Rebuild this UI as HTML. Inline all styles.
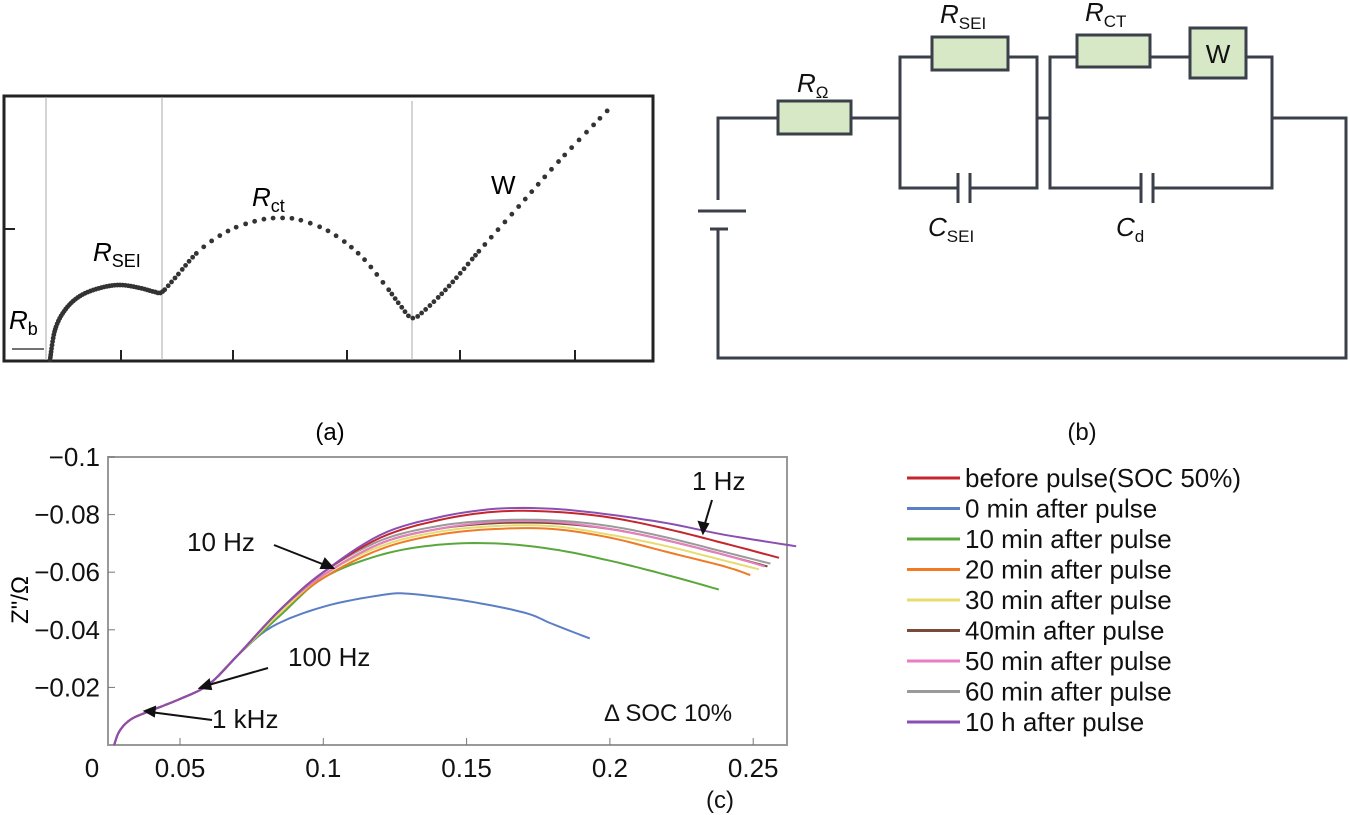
<!DOCTYPE html>
<html><head><meta charset="utf-8"><style>
body{margin:0;background:#fff;width:1350px;height:815px;overflow:hidden;font-family:"Liberation Sans",sans-serif}
svg{position:absolute;left:0;top:0}
</style></head><body>
<svg id="fig" width="1350" height="815" font-family="Liberation Sans, sans-serif">
<g>
<rect x="4" y="96" width="649" height="265" fill="none" stroke="#222" stroke-width="3"/>
<line x1="46" y1="97" x2="46" y2="360" stroke="#aaa" stroke-width="1"/>
<line x1="162" y1="97" x2="162" y2="360" stroke="#aaa" stroke-width="1"/>
<line x1="412" y1="101" x2="412" y2="360" stroke="#aaa" stroke-width="1"/>
<g stroke="#222" stroke-width="2"><line x1="121" y1="350" x2="121" y2="360"/><line x1="233" y1="350" x2="233" y2="360"/><line x1="347" y1="350" x2="347" y2="360"/><line x1="460" y1="350" x2="460" y2="360"/><line x1="575" y1="350" x2="575" y2="360"/><line x1="5" y1="229" x2="15" y2="229"/></g>
<g id="dotsA" fill="#333"></g>
<line x1="12" y1="349" x2="44" y2="349" stroke="#444" stroke-width="1.5"/>
<text x="9" y="329" font-size="26" font-style="italic">R<tspan font-size="18" font-style="normal" dy="6">b</tspan></text>
<text x="93" y="261" font-size="26" font-style="italic">R<tspan font-size="18" font-style="normal" dy="6">SEI</tspan></text>
<text x="252" y="206" font-size="26" font-style="italic">R<tspan font-size="18" font-style="normal" dy="6">ct</tspan></text>
<text x="491" y="194" font-size="26">W</text>
<text x="330" y="440" font-size="24" text-anchor="middle">(a)</text>
</g>
<g stroke="#3a3f4a" stroke-width="3" fill="none">
<polyline points="718,200 718,118 778,118"/>
<line x1="851" y1="118" x2="900" y2="118"/>
<polyline points="718,228 718,358 1346,358 1346,118 1272,118"/>
<polyline points="932,57 900,57 900,188 958,188"/>
<polyline points="970,188 1037,188 1037,57 1008,57"/>
<line x1="1037" y1="118" x2="1050" y2="118"/>
<polyline points="1077,57 1050,57 1050,188 1141,188"/>
<polyline points="1153,188 1272,188 1272,57 1246,57"/>
<line x1="1150" y1="57" x2="1190" y2="57"/>
<line x1="958" y1="173" x2="958" y2="203"/><line x1="970" y1="173" x2="970" y2="203"/>
<line x1="1141" y1="173" x2="1141" y2="203"/><line x1="1153" y1="173" x2="1153" y2="203"/>
<line x1="698" y1="211" x2="746" y2="211"/><line x1="710" y1="229" x2="728" y2="229"/>
<rect x="778" y="101" width="73" height="33" fill="#d6e8c6"/>
<rect x="932" y="37" width="76" height="33" fill="#d6e8c6"/>
<rect x="1077" y="35" width="73" height="32" fill="#d6e8c6"/>
<rect x="1190" y="28" width="56" height="50" fill="#d6e8c6"/>
</g>
<g font-size="26" fill="#111">
<text x="1218" y="63" text-anchor="middle">W</text>
<text x="797" y="92" font-style="italic">R<tspan font-size="17" font-style="normal" dy="6">Ω</tspan></text>
<text x="940" y="23" font-style="italic">R<tspan font-size="17" font-style="normal" dy="6">SEI</tspan></text>
<text x="1085" y="21" font-style="italic">R<tspan font-size="17" font-style="normal" dy="6">CT</tspan></text>
<text x="928" y="236" font-style="italic">C<tspan font-size="17" font-style="normal" dy="6">SEI</tspan></text>
<text x="1116" y="236" font-style="italic">C<tspan font-size="17" font-style="normal" dy="6">d</tspan></text>
<text x="1082" y="440" font-size="24" text-anchor="middle">(b)</text>
</g>
<g>
<rect x="108" y="457" width="679" height="288" fill="none" stroke="#999" stroke-width="2"/>
<g id="axesC" font-size="26" fill="#111"></g>
<g id="curvesC"></g>
<text x="28" y="600" font-size="24" transform="rotate(-90 28 600)" text-anchor="middle">Z"/Ω</text>
<g font-size="26" fill="#111">
<text x="692" y="490">1 Hz</text>
<text x="187" y="551">10 Hz</text>
<text x="288" y="666">100 Hz</text>
<text x="212" y="728">1 kHz</text>
<text x="604" y="721" font-size="24">Δ SOC 10%</text>
<text x="720" y="808" font-size="24" text-anchor="middle">(c)</text>
</g>
<g stroke="#111" stroke-width="2" fill="#111">
<line x1="712" y1="500" x2="703" y2="530"/><polygon points="703,533 699,522 708,524"/>
<line x1="274" y1="545" x2="330" y2="567"/><polygon points="333,568 321,568 325,559"/>
<line x1="268" y1="668" x2="205" y2="686"/><polygon points="200,688 209,680 211,689"/>
<line x1="212" y1="720" x2="150" y2="712"/><polygon points="145,711 155,707 154,716"/>
</g>
<g id="legendC" font-size="26" fill="#111"></g>
</g>
</svg>
<script>
// Panel (a): schematic Nyquist key points (Re, -Im in arbitrary units)
const aRe=[0.4,0.9,1.9,3.4,5.4,7.4,9.4,10.9,11.6,12.9,15.4,18.4,21.4,23.4,25.4,28.4,31.4,33.9,35.4,36.6,37.9,40.4,43.4,47.4,51.4,56.2];
const aIm=[0,3,5,6.4,7.2,7.5,7.2,6.8,6.8,8.2,11,13,14,14.2,14,12.8,10.5,7.5,5.5,4.2,5,7.5,11,15.5,20,25];
// Panel (c) data
const xTicks=[0.05,0.1,0.15,0.2,0.25];
const xTickLabels=["0.05","0.1","0.15","0.2","0.25"];
const yTicks=[0.02,0.04,0.06,0.08,0.1];
const yTickLabels=["−0.02","−0.04","−0.06","−0.08","−0.1"];
const seriesNames=["before pulse(SOC 50%)","0 min after pulse","10 min after pulse","20 min after pulse","30 min after pulse","40min after pulse","50 min after pulse","60 min after pulse","10 h after pulse"];
const seriesColors=["#c4262e","#5b7fc4","#5aa83c","#ef7b26","#e6dc70","#7b4a3a","#e87ec0","#9a9a9a","#8a4fb0"];
const commonX=[0.027,0.029,0.033,0.04,0.05,0.06,0.07];
const commonY=[0,0.005,0.009,0.012,0.016,0.021,0.031];
const tailX=[0.085,0.1,0.12,0.14,0.16,0.18,0.2,0.22,0.24,0.26];
const s0=[0.047,0.060,0.072,0.078,0.081,0.081,0.079,0.075,0.070,0.065];
const s1x=[0.082,0.1,0.12,0.13,0.15,0.17,0.18,0.193];
const s1=[0.041,0.048,0.052,0.0525,0.05,0.046,0.042,0.037];
const s2x=[0.085,0.1,0.12,0.14,0.16,0.18,0.2,0.22,0.238];
const s2=[0.045,0.058,0.066,0.0695,0.070,0.068,0.064,0.059,0.054];
const s3=[0.046,0.058,0.068,0.073,0.075,0.075,0.072,0.067,0.062,0.059];
const s4=[0.046,0.059,0.069,0.074,0.076,0.076,0.073,0.069,0.064,0.061];
const s5=[0.047,0.059,0.070,0.075,0.077,0.077,0.075,0.071,0.066,0.062];
const s6=[0.047,0.059,0.070,0.075,0.0775,0.0775,0.075,0.071,0.066,0.062];
const s7=[0.047,0.060,0.071,0.076,0.078,0.078,0.076,0.072,0.067,0.063];
const s8=[0.047,0.060,0.073,0.079,0.082,0.082,0.080,0.077,0.073,0.069];
const endX=[0.259,0.193,0.238,0.249,0.252,0.255,0.254,0.256,0.265];

const NS='http://www.w3.org/2000/svg';
function mk(tag,attrs,parent){const e=document.createElementNS(NS,tag);for(const k in attrs)e.setAttribute(k,attrs[k]);parent.appendChild(e);return e;}
function xs(v){return 180+(v-0.05)*2866;}
function ys(v){return 745-v*2880;}
function axA(v){return 46+v*10;}
function ayA(v){return 360-v*10;}
function catmull(P,steps){const out=[];for(let i=0;i<P.length-1;i++){const p0=P[Math.max(0,i-1)],p1=P[i],p2=P[i+1],p3=P[Math.min(P.length-1,i+2)];for(let s=0;s<steps;s++){const t=s/steps,t2=t*t,t3=t2*t;out.push([0,1].map(k=>0.5*((2*p1[k])+(-p0[k]+p2[k])*t+(2*p0[k]-5*p1[k]+4*p2[k]-p3[k])*t2+(-p0[k]+3*p1[k]-3*p2[k]+p3[k])*t3)));}}out.push(P[P.length-1]);return out;}

(function(){
 const g=document.getElementById('dotsA');
 const P=aRe.map((r,i)=>[axA(r),ayA(aIm[i])]);
 const fine=catmull(P,30);
 let acc=0,prev=fine[0];
 const pts=[fine[0]];
 for(let i=1;i<fine.length;i++){const d=Math.hypot(fine[i][0]-prev[0],fine[i][1]-prev[1]);acc+=d;prev=fine[i];
  const x=fine[i][0];const sp=x<165?2.5:(x<412?(x<200||x>390?5:9):(x<480?5:9));
  if(acc>=sp){pts.push(fine[i]);acc=0;}}
 pts.forEach(p=>{const c=mk('circle',{cx:p[0],cy:p[1],r:2.4},g);

});
})();

(function(){
 const g=document.getElementById('axesC');
 xTicks.forEach((v,i)=>{mk('line',{x1:xs(v),x2:xs(v),y1:745,y2:738,stroke:'#777'},g);
  const t=mk('text',{x:xs(v),y:777,'text-anchor':'middle'},g);t.textContent=xTickLabels[i];

});
 const z=mk('text',{x:92,y:777,'text-anchor':'middle'},g);z.textContent='0';


 yTicks.forEach((v,i)=>{mk('line',{x1:108,x2:115,y1:ys(v),y2:ys(v),stroke:'#777'},g);
  const t=mk('text',{x:100,y:ys(v)+9,'text-anchor':'end'},g);t.textContent=yTickLabels[i];

});
})();

(function(){
 const g=document.getElementById('curvesC');
 const all=[[tailX,s0],[s1x,s1],[s2x,s2],[tailX,s3],[tailX,s4],[tailX,s5],[tailX,s6],[tailX,s7],[tailX,s8]];
 const order=[1,2,3,4,5,6,7,0,8];
 order.forEach(i=>{
  const P=commonX.map((x,k)=>[xs(x),ys(commonY[k])]);
  const tx=all[i][0],ty=all[i][1];
  for(let k=0;k<tx.length;k++){const x=(k===tx.length-1)?endX[i]:tx[k];P.push([xs(x),ys(ty[k])]);}
  const S=catmull(P,8);
  const d=S.map((p,k)=>(k?'L':'M')+p[0].toFixed(1)+','+p[1].toFixed(1)).join('');
  const p=mk('path',{d:d,fill:'none',stroke:seriesColors[i],'stroke-width':2,'stroke-linejoin':'round'},g);
  
  
 });
})();

(function(){
 const g=document.getElementById('legendC');
 seriesNames.forEach((n,i)=>{
  const y=478+i*30.5;
  const l=mk('line',{x1:907,x2:960,y1:y,y2:y,stroke:seriesColors[i],'stroke-width':3},g);
  
  
  const t=mk('text',{x:965,y:y+9},g);t.textContent=n;
  
  
 });
})();
</script>
</body></html>
